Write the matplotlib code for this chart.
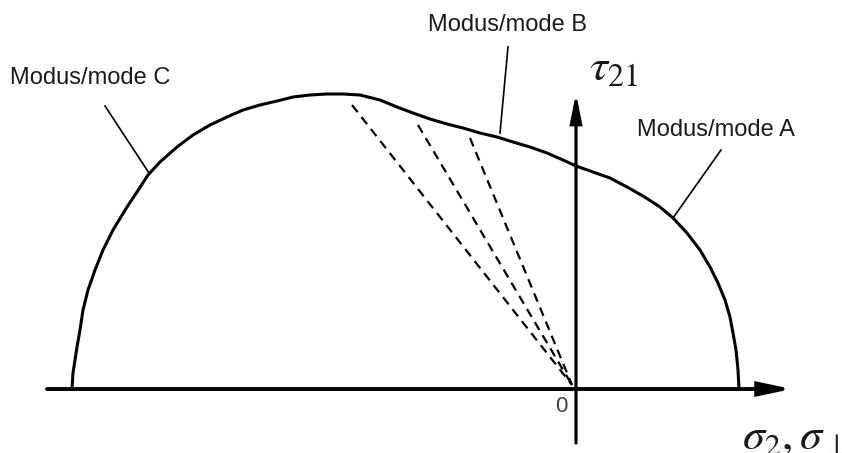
import matplotlib
matplotlib.use("Agg")
import matplotlib.pyplot as plt

# failure envelope (sigma_2 vs tau_21), arbitrary units
sigma = [-5.04, -5.03, -5.01, -4.99, -4.96, -4.93, -4.88, -4.81, -4.73, -4.63,
         -4.49, -4.39, -4.28, -4.16, -3.99, -3.83, -3.66, -3.49, -3.33,
         -3.16, -2.99, -2.83, -2.66, -2.49, -2.33, -2.16, -1.96, -1.79, -1.63,
         -1.46, -1.29, -1.13, -0.96, -0.79, -0.63, -0.46, -0.29, -0.13, 0.00,
         0.17, 0.34, 0.51, 0.67, 0.84, 0.97, 1.11, 1.24, 1.34, 1.42,
         1.49, 1.54, 1.57, 1.60, 1.62, 1.63]
tau = [0.00, 0.16, 0.29, 0.42, 0.59, 0.79, 0.99, 1.19, 1.39, 1.59,
       1.82, 1.97, 2.14, 2.27, 2.42, 2.54, 2.64, 2.72, 2.79,
       2.84, 2.88, 2.92, 2.94, 2.95, 2.95, 2.94, 2.89, 2.82, 2.76,
       2.70, 2.65, 2.61, 2.56, 2.52, 2.47, 2.42, 2.36, 2.29, 2.23,
       2.17, 2.11, 2.02, 1.93, 1.82, 1.71, 1.56, 1.39, 1.22, 1.06,
       0.89, 0.72, 0.56, 0.39, 0.19, 0.00]

# dashed fracture-plane rays: start on the envelope, end near the origin
ray_sigma = [-2.24, -1.58, -1.06]
ray_tau = [2.84, 2.64, 2.51]
ray_end = (-0.04, 0.04)

# mode labels and their leader lines
modes = ["Modus/mode C", "Modus/mode B", "Modus/mode A"]
leader_start = [(-4.71, 2.83), (-0.68, 3.42), (1.45, 2.39)]
leader_end = [(-4.27, 2.16), (-0.76, 2.56), (0.97, 1.71)]

# axis extents
x_axis = (-5.29, 2.16)
y_axis = (-0.54, 2.96)

plt.rcParams['mathtext.fontset'] = 'stix'
plt.rcParams['lines.scale_dashes'] = False

fig = plt.figure(figsize=(8.42, 4.53), dpi=100)
ax = fig.add_axes([0, 0, 1, 1])
ax.set_xlim(-5.76, 2.66)
ax.set_ylim(-0.64, 3.89)
ax.axis('off')

# axes with arrow heads
ax.annotate('', xy=(x_axis[1], 0), xytext=(x_axis[0], 0),
            arrowprops=dict(arrowstyle='-|>,head_length=0.95,head_width=0.2',
                            lw=2.8, color='black', shrinkA=0, shrinkB=0,
                            mutation_scale=20, joinstyle='miter'))
ax.annotate('', xy=(0, y_axis[1]), xytext=(0, y_axis[0]),
            arrowprops=dict(arrowstyle='-|>,head_length=0.85,head_width=0.17',
                            lw=2.3, color='black', shrinkA=0, shrinkB=0,
                            mutation_scale=20, joinstyle='miter'))

# envelope
ax.plot(sigma, tau, color='black', lw=2.2, solid_joinstyle='round')

# dashed rays
for s, t in zip(ray_sigma, ray_tau):
    ax.plot([s, ray_end[0]], [t, ray_end[1]], color='black', lw=1.6,
            dashes=(6.5, 4.5))

# leaders
for (x0, y0), (x1, y1) in zip(leader_start, leader_end):
    ax.plot([x0, x1], [y0, y1], color='black', lw=1.2)

# labels
label_pos = [(-5.66, 3.11), (-1.48, 3.64), (0.61, 2.59)]
for txt, (lx, ly) in zip(modes, label_pos):
    ax.text(lx, ly, txt, fontsize=17, family='Liberation Sans',
            color='#1a1a1a', ha='left', va='center')

ax.text(-0.15, -0.17, '0', fontsize=16, family='Liberation Sans',
        color='#444444', ha='center', va='center')
ax.text(0.13, 3.09, r'$\tau_{21}$', fontsize=33, color='#1a1a1a',
        ha='left', va='baseline')
ax.text(1.66, -0.60, r'$\sigma_2, \sigma_\perp$', fontsize=32,
        color='#1a1a1a', ha='left', va='baseline')

fig.savefig('out.png', dpi=100)
